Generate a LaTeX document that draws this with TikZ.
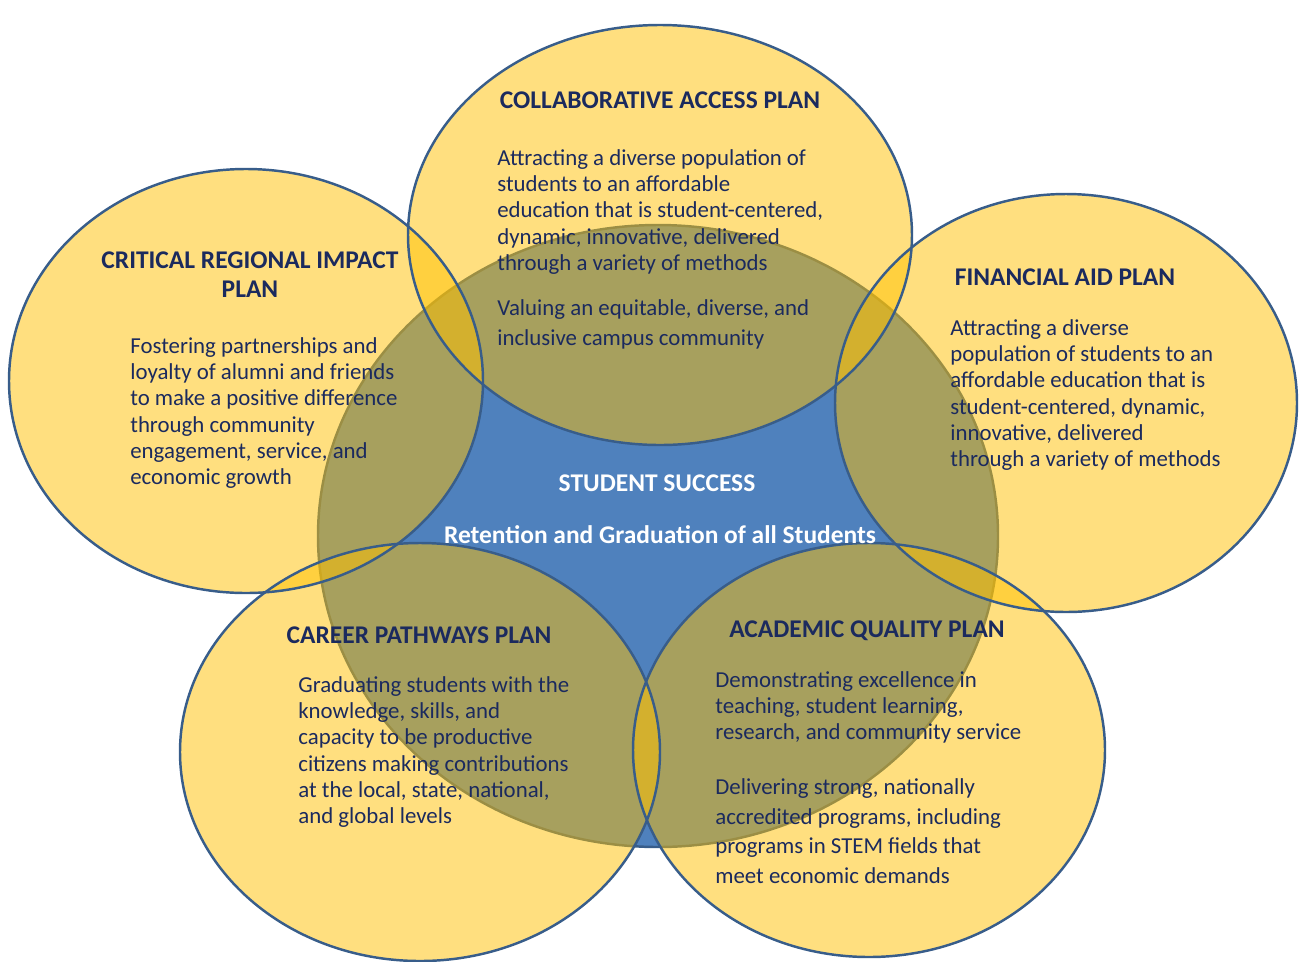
\documentclass[tikz,border=0pt]{standalone}
\usepackage{fontspec}
\setmainfont{Carlito}
\definecolor{hubblue}{HTML}{4F81BD}
\definecolor{ringblue}{HTML}{385D8A}
\definecolor{plangold}{HTML}{FFC000}
\definecolor{navy}{HTML}{1B2A5E}
\newcommand\planhead{\fontsize{14.5}{17}\selectfont\bfseries}
\newcommand\plantext{\fontsize{13}{15}\selectfont}
\newcommand\plantextloose{\fontsize{13}{17}\selectfont}

\begin{document}
\begin{tikzpicture}[x=0.02cm, y=-0.02cm,
  ring/.style={draw=ringblue, line width=1.4pt},
  planfill/.style={fill=plangold, fill opacity=0.5},
  head/.style={font=\planhead, text=navy, inner sep=0pt, align=center, anchor=north, execute at begin node=\strut},
  body/.style={font=\plantext, text=navy, inner sep=0pt, align=left, anchor=north west, execute at begin node=\strut},
  loose/.style={body, font=\plantextloose}]
\useasboundingbox (0,0) rectangle (1302,961);

% centres of the rings
\coordinate (hub) at (658,536);
\coordinate (access) at (660,235);
\coordinate (regional) at (246,381);
\coordinate (aid) at (1066,403);
\coordinate (career) at (420,752);
\coordinate (quality) at (869,750);

% student success in the middle
\draw[ring, fill=hubblue] (hub) ellipse [x radius=340, y radius=311];

% the five plans
\foreach \c/\rx/\ry in {access/252/210, regional/237/212, aid/231/209, career/240/209, quality/236/207}
  \fill[planfill] (\c) ellipse [x radius=\rx, y radius=\ry];
\foreach \c/\rx/\ry in {access/252/210, regional/237/212, aid/231/209, career/240/209, quality/236/207}
  \draw[ring] (\c) ellipse [x radius=\rx, y radius=\ry];

% texts
\node[head, text=white] (hub title) at (657,470) {STUDENT SUCCESS};
\node[head, text=white] (hub text) at (660,522) {Retention and Graduation of all Students};

\node[head] (access title) at (660,87) {COLLABORATIVE ACCESS PLAN};
\node[body] (access text) at (497,149) {Attracting a diverse population of\\students to an affordable\\education that is student-centered,\\dynamic, innovative, delivered\\through a variety of methods};
\node[loose] (access value) at (497,299) {Valuing an equitable, diverse, and\\inclusive campus community};

\node[head] (regional title) at (250,251) {CRITICAL REGIONAL IMPACT\\PLAN};
\node[body] (regional text) at (130,337) {Fostering partnerships and\\loyalty of alumni and friends\\to make a positive difference\\through community\\engagement, service, and\\economic growth};

\node[head] (aid title) at (1065,264) {FINANCIAL AID PLAN};
\node[body] (aid text) at (950,319) {Attracting a diverse\\population of students to an\\affordable education that is\\student-centered, dynamic,\\innovative, delivered\\through a variety of methods};

\node[head] (career title) at (419,622) {CAREER PATHWAYS PLAN};
\node[body] (career text) at (298,676) {Graduating students with the\\knowledge, skills, and\\capacity to be productive\\citizens making contributions\\at the local, state, national,\\and global levels};

\node[head] (quality title) at (867,616) {ACADEMIC QUALITY PLAN};
\node[body] (quality text) at (715,671) {Demonstrating excellence in\\teaching, student learning,\\research, and community service};
\node[loose] (quality programs) at (715,778) {Delivering strong, nationally\\accredited programs, including\\programs in STEM fields that\\meet economic demands};
\end{tikzpicture}
\end{document}
